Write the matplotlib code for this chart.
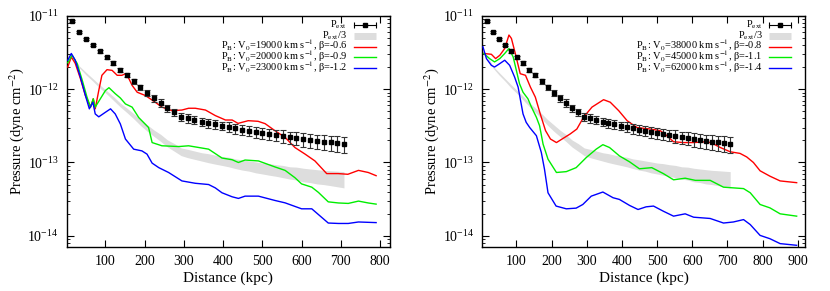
import numpy as np
import matplotlib
matplotlib.use("Agg")
import matplotlib.pyplot as plt
from matplotlib.lines import Line2D

plt.rcParams['font.family'] = ['Liberation Serif', 'DejaVu Serif']
plt.rcParams['mathtext.fontset'] = 'stix'

# observed external pressure (same in both panels)
d_ext = [16, 33, 51, 68, 85, 103, 120, 137, 154, 172, 189, 206, 224, 241, 258, 276, 293,
         310, 327, 345, 362, 379, 397, 414, 431, 449, 466, 483, 500, 518, 535, 552, 570,
         587, 604, 622, 639, 656, 674, 691, 708]
p_ext = [8.62e-12, 6.08e-12, 4.88e-12, 4.03e-12, 3.30e-12, 2.73e-12, 2.26e-12, 1.85e-12,
         1.56e-12, 1.29e-12, 1.06e-12, 8.95e-13, 7.55e-13, 6.53e-13, 5.50e-13, 4.84e-13,
         4.23e-13, 4.01e-13, 3.81e-13, 3.61e-13, 3.47e-13, 3.32e-13, 3.18e-13, 3.08e-13,
         2.92e-13, 2.81e-13, 2.72e-13, 2.61e-13, 2.52e-13, 2.45e-13, 2.37e-13, 2.30e-13,
         2.20e-13, 2.16e-13, 2.07e-13, 2.02e-13, 1.96e-13, 1.92e-13, 1.88e-13, 1.84e-13,
         1.80e-13]
# relative error
e_rel = [0.03, 0.03, 0.04, 0.04, 0.05, 0.05, 0.06, 0.06, 0.07, 0.08, 0.09, 0.10, 0.10,
         0.11, 0.11, 0.12, 0.12, 0.13, 0.13, 0.13, 0.14, 0.14, 0.14, 0.15, 0.15, 0.16,
         0.16, 0.17, 0.17, 0.18, 0.18, 0.19, 0.19, 0.20, 0.21, 0.21, 0.22, 0.22, 0.23,
         0.24, 0.25]

# left panel models
dL_red = [4, 13, 23, 36, 49, 62, 69, 74, 83, 91, 104, 117, 130, 142, 151, 160, 168, 181,
          202, 227, 244, 270, 295, 312, 329, 355, 380, 406, 423, 438, 464, 489, 507, 532,
          558, 583, 609, 634, 664, 693, 718, 745, 770, 790]
pL_red = [2.01e-12, 2.76e-12, 2.26e-12, 1.41e-12, 8.2e-13, 5.7e-13, 7.4e-13, 5.4e-13,
          9.6e-13, 1.55e-12, 1.85e-12, 1.81e-12, 1.55e-12, 1.55e-12, 1.63e-12, 1.39e-12,
          1.13e-12, 9.1e-13, 8.2e-13, 6.65e-13, 5.7e-13, 5.1e-13, 5.2e-13, 5.5e-13, 5.5e-13,
          5.2e-13, 4.37e-13, 3.8e-13, 3.8e-13, 3.42e-13, 3.72e-13, 3.65e-13, 3.39e-13,
          2.72e-13, 2.2e-13, 1.6e-13, 1.3e-13, 1.05e-13, 7.05e-14, 7.05e-14, 6.9e-14,
          7.8e-14, 7.3e-14, 6.6e-14]
dL_green = [4, 15, 28, 41, 53, 62, 69, 74, 87, 100, 109, 125, 138, 151, 168, 185, 210, 219,
            244, 287, 312, 363, 397, 423, 439, 456, 490, 532, 558, 583, 600, 626, 643, 668,
            694, 719, 745, 770, 790]
pL_green = [2.3e-12, 2.91e-12, 2.24e-12, 1.32e-12, 7.8e-13, 5.7e-13, 7.4e-13, 5.7e-13,
            7.4e-13, 9.6e-13, 1.05e-12, 8.7e-13, 7.6e-13, 6.3e-13, 5.7e-13, 4.1e-13, 3.0e-13,
            1.87e-13, 1.69e-13, 1.65e-13, 1.69e-13, 1.52e-13, 1.15e-13, 1.09e-13, 1.0e-13,
            1.08e-13, 1.05e-13, 8.7e-14, 7.8e-14, 6.2e-14, 5.1e-14, 4.6e-14, 3.9e-14, 2.9e-14,
            2.8e-14, 2.76e-14, 2.97e-14, 2.8e-14, 2.7e-14]
dL_blue = [4, 13, 23, 36, 49, 59, 68, 74, 83, 100, 113, 125, 138, 151, 172, 193, 206, 219,
           236, 261, 295, 329, 363, 380, 397, 423, 439, 456, 490, 532, 558, 600, 626, 668,
           694, 719, 745, 790]
pL_blue = [2.49e-12, 3.08e-12, 2.49e-12, 1.47e-12, 8.2e-13, 5.4e-13, 6.65e-13, 4.6e-13,
           4.2e-13, 4.85e-13, 5.4e-13, 4.6e-13, 3.36e-13, 2.09e-13, 1.52e-13, 1.44e-13,
           1.3e-13, 9.8e-14, 8.5e-14, 7.3e-14, 5.6e-14, 5.2e-14, 5.0e-14, 4.5e-14, 3.86e-14,
           3.4e-14, 3.23e-14, 3.47e-14, 3.47e-14, 3.03e-14, 2.81e-14, 2.33e-14, 2.33e-14,
           1.49e-14, 1.47e-14, 1.47e-14, 1.54e-14, 1.51e-14]

# right panel models
dR_red = [7, 29, 41, 53, 67, 79, 86, 97, 111, 126, 140, 154, 168, 183, 197, 214, 230, 253,
          272, 291, 315, 348, 367, 391, 415, 443, 481, 509, 528, 547, 575, 604, 642, 656,
          680, 708, 736, 755, 774, 793, 821, 850, 897]
pR_red = [3.08e-12, 3.0e-12, 2.62e-12, 2.91e-12, 3.6e-12, 5.5e-12, 4.94e-12, 3.08e-12,
          1.63e-12, 1.55e-12, 1.07e-12, 7.8e-13, 4.6e-13, 2.72e-13, 2.09e-13, 1.87e-13,
          2.09e-13, 2.45e-13, 2.86e-13, 4.14e-13, 5.7e-13, 7.2e-13, 6.65e-13, 5.1e-13,
          3.72e-13, 3.0e-13, 2.86e-13, 2.72e-13, 2.32e-13, 1.92e-13, 1.87e-13, 1.87e-13,
          1.92e-13, 1.84e-13, 1.6e-13, 1.4e-13, 1.33e-13, 1.19e-13, 1.0e-13, 7.7e-14,
          6.5e-14, 5.6e-14, 5.3e-14]
dR_green = [7, 24, 38, 53, 67, 79, 91, 100, 109, 119, 133, 143, 157, 166, 176, 190, 214,
            242, 270, 299, 327, 346, 365, 393, 422, 450, 485, 518, 547, 580, 609, 651, 689,
            746, 765, 793, 821, 850, 897]
pR_green = [3.08e-12, 2.62e-12, 2.36e-12, 2.62e-12, 3.08e-12, 3.6e-12, 2.76e-12, 1.81e-12,
            1.19e-12, 9.1e-13, 7.4e-13, 5.7e-13, 4.14e-13, 3.18e-13, 1.78e-13, 1.11e-13,
            7.3e-14, 7.5e-14, 8.5e-14, 1.17e-13, 1.52e-13, 1.75e-13, 1.6e-13, 1.23e-13,
            1.02e-13, 8.2e-14, 8.5e-14, 7.05e-14, 5.8e-14, 6.1e-14, 5.7e-14, 5.7e-14,
            4.6e-14, 4.4e-14, 3.86e-14, 2.67e-14, 2.4e-14, 1.99e-14, 1.85e-14]
dR_blue = [5, 15, 29, 38, 53, 67, 81, 95, 105, 112, 119, 128, 138, 157, 171, 180, 190, 213,
           242, 270, 289, 313, 346, 375, 393, 422, 446, 469, 490, 518, 547, 580, 604, 651,
           689, 717, 746, 765, 793, 821, 850, 897]
pR_blue = [3.79e-12, 2.62e-12, 2.12e-12, 2.01e-12, 2.24e-12, 2.49e-12, 2.12e-12, 1.47e-12,
           1.07e-12, 7.0e-13, 4.6e-13, 3.53e-13, 3.0e-13, 2.32e-13, 1.37e-13, 8.1e-14,
           3.86e-14, 2.54e-14, 2.33e-14, 2.38e-14, 2.67e-14, 3.47e-14, 3.95e-14, 3.3e-14,
           3.13e-14, 2.59e-14, 2.28e-14, 2.48e-14, 2.54e-14, 2.16e-14, 1.85e-14, 1.99e-14,
           1.79e-14, 1.72e-14, 1.49e-14, 1.54e-14, 1.66e-14, 1.42e-14, 1.01e-14, 9.1e-15,
           7.8e-15, 7.4e-15]

labels_L = [r'P$_{\rm B}$: V$_0$=19000 km s$^{-1}$, β=-0.6',
            r'P$_{\rm B}$: V$_0$=20000 km s$^{-1}$, β=-0.9',
            r'P$_{\rm B}$: V$_0$=23000 km s$^{-1}$, β=-1.2']
labels_R = [r'P$_{\rm B}$: V$_0$=38000 km s$^{-1}$, β=-0.8',
            r'P$_{\rm B}$: V$_0$=45000 km s$^{-1}$, β=-1.1',
            r'P$_{\rm B}$: V$_0$=62000 km s$^{-1}$, β=-1.4']
colors = ['#ff0000', '#00ee00', '#0000ff']

d_ext = np.array(d_ext)
p_ext = np.array(p_ext)
err = p_ext * np.array(e_rel)

fig = plt.figure(figsize=(8.3, 2.91), dpi=100)
axL = fig.add_axes([0.0807, 0.151, 0.389, 0.794])
axR = fig.add_axes([0.581, 0.151, 0.389, 0.794])


def key(ax, labels):
    # gnuplot-like key: right aligned text, sample on the right, fixed row pitch
    tx, x0, x1 = 0.868, 0.888, 0.957
    pitch = 0.047
    texts = [r'P$_{\rm ext}$', r'P$_{\rm ext}$/3'] + labels
    for i, t in enumerate(texts):
        y = 0.962 - i * pitch
        ax.text(tx, y - 0.012, t, transform=ax.transAxes, ha='right', va='baseline',
                fontsize=7.5)
        if i == 0:
            ax.add_line(Line2D([x0, x1], [y, y], transform=ax.transAxes, color='black',
                               lw=0.8, marker='|', ms=4, mew=0.8))
            ax.add_line(Line2D([(x0 + x1) / 2], [y], transform=ax.transAxes,
                               color='black', marker='s', ms=3.5, ls='none'))
        elif i == 1:
            ax.add_line(Line2D([x0, x1], [y, y], transform=ax.transAxes,
                               color='#dddddd', lw=5, solid_capstyle='butt'))
        else:
            ax.add_line(Line2D([x0, x1], [y, y], transform=ax.transAxes,
                               color=colors[i - 2], lw=1.0))


def panel(ax, models, labels, xlim, xticks):
    ax.set_yscale('log')
    ax.errorbar(d_ext, p_ext, yerr=err, fmt='s', color='black', ms=3.5,
                ecolor='0.2', elinewidth=0.8, capsize=2, capthick=0.8, zorder=4)
    ax.fill_between(d_ext, (p_ext - err) / 3, (p_ext + err) / 3, color='#dddddd',
                    lw=0, zorder=1)
    for (d, p), c in zip(models, colors):
        ax.plot(d, p, color=c, lw=1.0, zorder=3)

    ax.set_xlim(*xlim)
    ax.set_ylim(7e-15, 1e-11)
    ax.set_xticks(xticks)
    ax.set_yticks([1e-14, 1e-13, 1e-12, 1e-11])
    ax.tick_params(which='both', direction='in', top=True, right=True, labelsize=10)
    ax.tick_params(which='major', length=5, width=0.8, pad=6)
    ax.tick_params(which='minor', length=2.5, width=0.6)
    for s in ax.spines.values():
        s.set_linewidth(1.0)
    ax.set_xlabel('Distance (kpc)', fontsize=11, labelpad=2)
    ax.set_ylabel(r'Pressure (dyne cm$^{-2}$)', fontsize=10.5, labelpad=1)
    key(ax, labels)


panel(axL, [(dL_red, pL_red), (dL_green, pL_green), (dL_blue, pL_blue)], labels_L,
      (2, 825), [100, 200, 300, 400, 500, 600, 700, 800])
panel(axR, [(dR_red, pR_red), (dR_green, pR_green), (dR_blue, pR_blue)], labels_R,
      (3, 921), [100, 200, 300, 400, 500, 600, 700, 800, 900])

fig.savefig('out.png', dpi=100)
